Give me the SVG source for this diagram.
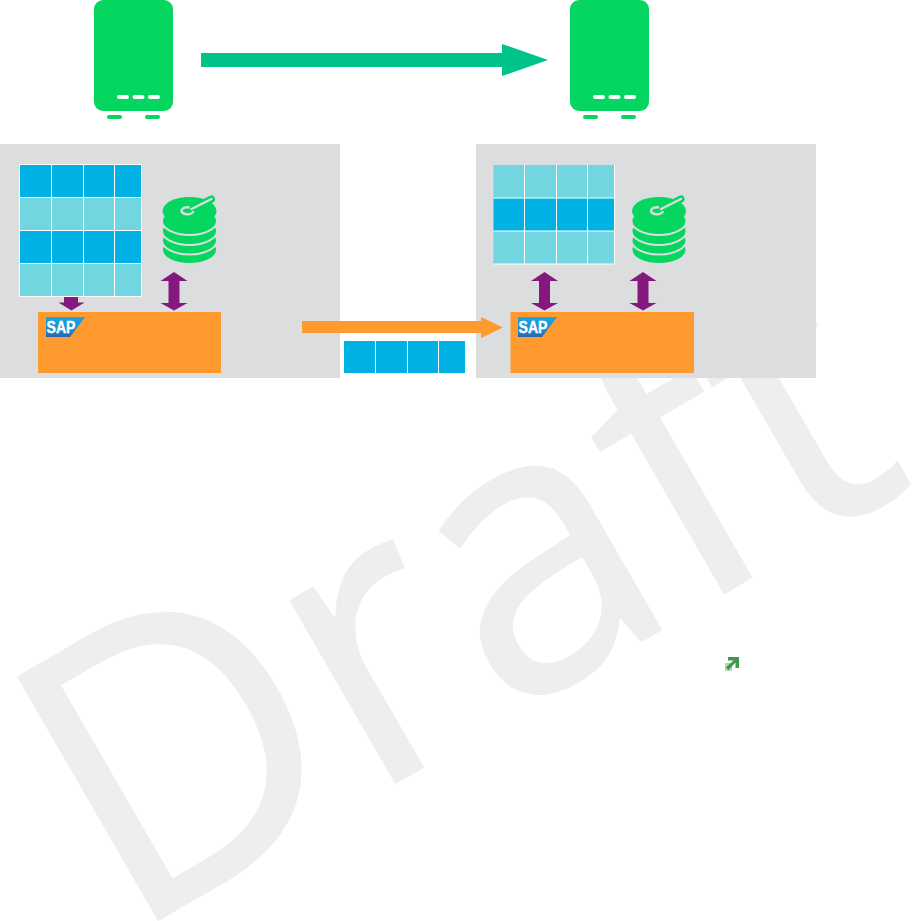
<svg xmlns="http://www.w3.org/2000/svg" width="918" height="921" viewBox="0 0 918 921">
<style>
.panel{fill:#dcdddf}
.dark{fill:#00b2e3}
.light{fill:#71d6e0}
.sep{stroke:#fff;stroke-width:1;fill:none}
.green{fill:#04d660}
.sap{fill:#ff9a2e}
.purple{fill:#84187f}
.white{fill:#fff}
.layer{fill:#04d660;stroke:#dcdddf;stroke-width:2}
.logotext{font-family:"Liberation Sans",Arial,sans-serif;font-weight:700;font-size:17px;fill:#fff;stroke:#fff;stroke-width:.4}
</style>
<defs>
<linearGradient id="logofill" x1="0" y1="0" x2="0" y2="1">
<stop offset="0" stop-color="#14a8e2"/>
<stop offset="0.7" stop-color="#1b86cc"/>
<stop offset="1" stop-color="#2c62ad"/>
</linearGradient>
<g id="server">
<rect class="green" x="0" y="0" width="79" height="111" rx="9"/>
<rect class="white" x="23" y="95" width="12" height="4" rx="2"/>
<rect class="white" x="38.500" y="95" width="12" height="4" rx="2"/>
<rect class="white" x="54" y="95" width="12" height="4" rx="2"/>
<rect class="green" x="13" y="115" width="15" height="4" rx="2"/>
<rect class="green" x="51" y="115" width="15" height="4" rx="2"/>
</g>
<g id="disk">
<ellipse class="layer" cx="0" cy="250" rx="27.500" ry="14"/>
<ellipse class="layer" cx="0" cy="240.500" rx="27.500" ry="14"/>
<ellipse class="layer" cx="0" cy="231" rx="27.500" ry="14"/>
<ellipse class="layer" cx="0" cy="221" rx="27.500" ry="14"/>
<ellipse class="green" cx="0" cy="211" rx="27" ry="14"/>
<path d="M2 209 L22 199" stroke="#04d660" stroke-width="7" stroke-linecap="round" fill="none"/>
<path d="M2 209 L22 199" stroke="#dcdddf" stroke-width="2.400" stroke-linecap="round" fill="none"/>
<path d="M0 207.500 A6 3.500 0 1 0 4 211" stroke="#dcdddf" stroke-width="2.400" fill="none"/>
</g>
<g id="dbl">
<path class="purple" d="M0 272 L13.500 281 L5.500 281 L5.500 303 L13.500 303 L0 310.500 L-13.500 303 L-5.500 303 L-5.500 281 L-13.500 281 Z"/>
</g>
<g id="logo">
<path d="M0 0H39L24 20H0Z" fill="url(#logofill)"/>
<text class="logotext" x="0.500" y="16" textLength="29" lengthAdjust="spacingAndGlyphs">SAP</text>
</g>
</defs>
<text id="watermark" transform="translate(126 938.500) rotate(-30)" font-family="'Open Sans','Liberation Sans',sans-serif" font-size="393" fill="#eeeeee" stroke="#eeeeee" stroke-width="2" textLength="915" lengthAdjust="spacingAndGlyphs">Draft</text>
<g id="source-system">
<rect class="panel" x="0" y="144" width="340" height="234"/>
</g>
<g id="target-system">
<rect class="panel" x="476" y="144" width="340" height="234"/>
</g>
<g id="source-server"><use href="#server" x="94" y="0"/></g>
<g id="target-server"><use href="#server" x="570" y="0"/></g>
<g id="source-table">
<rect class="dark" x="19.500" y="164.500" width="122" height="33"/>
<rect class="light" x="19.500" y="197.500" width="122" height="33"/>
<rect class="dark" x="19.500" y="230.500" width="122" height="33"/>
<rect class="light" x="19.500" y="263.500" width="122" height="33"/>
<path class="sep" d="M19.500 164.500H141.500V296.500H19.500ZM51.500 164.500V296.500M83.500 164.500V296.500M114.500 164.500V296.500M19.500 197.500H141.500M19.500 230.500H141.500M19.500 263.500H141.500"/>
</g>
<g id="target-table">
<rect class="light" x="493.500" y="165" width="121" height="33"/>
<rect class="dark" x="493.500" y="198" width="121" height="33"/>
<rect class="light" x="493.500" y="231" width="121" height="33"/>
<path class="sep" d="M614.500 165V264H493.500M524.500 165V264M556.500 165V264M587.500 165V264M493.500 198H614.500M493.500 231H614.500"/>
</g>
<g id="log-table">
<rect class="dark" x="344" y="341" width="121" height="32"/>
<path class="sep" d="M375.500 341V373M407.500 341V373M438.500 341V373"/>
</g>
<g id="source-disk"><use href="#disk" x="189.500" y="0"/></g>
<g id="target-disk"><use href="#disk" x="659" y="0"/></g>
<g id="source-sap">
<rect class="sap" x="38" y="312" width="183" height="61"/>
<use href="#logo" x="46" y="317"/>
</g>
<g id="target-sap">
<rect class="sap" x="510.500" y="312" width="183.500" height="61"/>
<use href="#logo" x="518" y="317"/>
</g>
<g id="connectors">
<path d="M201 53H502V44L548 60L502 76V67H201Z" fill="#00c389"/>
<path class="sap" d="M302 321H481V317L503 327.500L481 338V333H302Z"/>
<path class="purple" d="M64 297H78V302.500H84.500L71.500 310.500L58.500 302.500H64Z"/>
<use href="#dbl" x="174" y="0"/>
<use href="#dbl" x="544.500" y="0"/>
<use href="#dbl" x="643" y="0"/>
</g>
<g id="external-link-icon">
<rect x="725" y="663" width="7" height="8" fill="#b4d4b4"/>
<path d="M728 657H739V668H735.500V662.500L728.500 670L726 667.500L733.500 660.500H728Z" fill="#3f9a45"/>
</g>
</svg>
